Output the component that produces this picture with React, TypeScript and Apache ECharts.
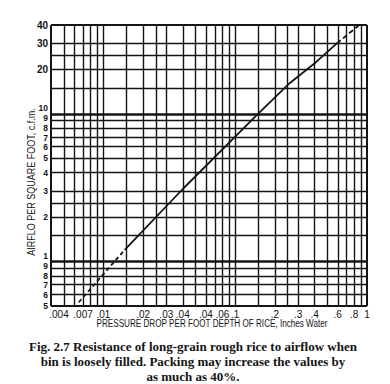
import React, { useEffect, useRef } from "react";
import * as echarts from "echarts";

// Grid values (log-log paper)
const xGridValues = [
  0.004, 0.005, 0.006, 0.007, 0.008, 0.009, 0.01, 0.015, 0.02, 0.025, 0.03, 0.04, 0.05, 0.06, 0.07,
  0.08, 0.09, 0.1, 0.15, 0.2, 0.25, 0.3, 0.4, 0.5, 0.6, 0.7, 0.8, 0.9, 1,
];
const yGridValues = [
  0.5, 0.6, 0.7, 0.8, 0.9, 1, 1.5, 2, 2.5, 3, 4, 5, 6, 7, 8, 9, 10, 15, 20, 25, 30, 40,
];
const thickLines = [1, 10];

// Tick labels as printed on the figure
const xTickValues = [0.004, 0.007, 0.01, 0.02, 0.03, 0.04, 0.06, 0.08, 0.1, 0.2, 0.3, 0.4, 0.6, 0.8, 1];
const xTickLabels = [".004", ".007", ".01", ".02", ".03", ".04", ".04", ".06", ".1", ".2", ".3", ".4", ".6", ".8", "1"];
const yTickValues = [0.5, 0.6, 0.7, 0.8, 0.9, 1, 2, 3, 4, 5, 6, 7, 8, 9, 10, 20, 30, 40];
const yTickLabels = ["5", "6", "7", "8", "9", "1", "2", "3", "4", "5", "6", "7", "8", "9", "10", "20", "30", "40"];

// Curve: airflow (cfm/sq ft) vs pressure drop (in. water per ft)
const lowerDashed = [
  [0.0065, 0.53],
  [0.0145, 1.2],
];
const solidPart = [
  [0.0145, 1.2],
  [0.04, 3.1],
  [0.1456, 9.8],
  [0.26, 16.2],
  [0.41, 22.4],
  [0.59, 30],
];
const upperDashed = [
  [0.59, 30],
  [0.875, 40],
];

const xTitle = "PRESSURE DROP PER FOOT DEPTH OF RICE, Inches Water";
const yTitle = "AIRFLO PER SQUARE FOOT, c.f.m.";
const captionLines = [
  "Fig. 2.7 Resistance of long-grain rough rice to airflow when",
  "bin is loosely filled. Packing may increase the values by",
  "as much as 40%.",
];

const INK = "#141414";

// small vertical nudges (px) so the crowded labels stay apart, as on the printed figure
function yLabelNudge(v: number): number {
  if (v === 1 || v === 10) return -5.6;
  if (v === 0.9 || v === 9) return -2.4;
  if (v === 0.8 || v === 8) return -0.2;
  if (v === 0.7 || v === 7) return 0.9;
  if (v === 0.6 || v === 6) return 0.7;
  return 0;
}

export default function App() {
  const ref = useRef<HTMLDivElement>(null);

  useEffect(() => {
    document.body.style.margin = "0";
    if (!ref.current) return;
    const chart = echarts.init(ref.current, undefined, { renderer: "svg" });

    const isBorderX = (v: number) => v === xGridValues[0] || v === xGridValues[xGridValues.length - 1];
    const isBorderY = (v: number) => v === yGridValues[0] || v === yGridValues[yGridValues.length - 1];

    const vLines = xGridValues.map((v) => {
      const idx = xTickValues.indexOf(v);
      return {
        xAxis: v,
        lineStyle: { width: isBorderX(v) ? 2 : 1.4 },
        label:
          idx >= 0
            ? {
                show: true,
                position: "start",
                formatter: xTickLabels[idx],
                distance: 3,
                offset: idx === 0 ? [8, 0] : [0, 0],
              }
            : { show: false },
      };
    });
    const hLines = yGridValues.map((v) => {
      const idx = yTickValues.indexOf(v);
      return {
        yAxis: v,
        lineStyle: { width: isBorderY(v) ? 2 : thickLines.includes(v) ? 2.6 : 1.4 },
        label:
          idx >= 0
            ? {
                show: true,
                position: "start",
                formatter: yTickLabels[idx],
                distance: 3,
                fontWeight: "bold",
                fontSize: v >= 20 ? 10 : 8.5,
                offset: [0, yLabelNudge(v)],
              }
            : { show: false },
      };
    });

    const option: any = {
      animation: false,
      backgroundColor: "#ffffff",
      grid: { left: 51, right: 23, top: 25, bottom: 78 },
      xAxis: {
        type: "log",
        logBase: 10,
        min: 0.004,
        max: 1,
        axisLine: { show: false },
        axisTick: { show: false },
        axisLabel: { show: false },
        splitLine: { show: false },
      },
      yAxis: {
        type: "log",
        logBase: 10,
        min: 0.5,
        max: 40,
        axisLine: { show: false },
        axisTick: { show: false },
        axisLabel: { show: false },
        splitLine: { show: false },
      },
      series: [
        {
          type: "line",
          data: solidPart,
          symbol: "none",
          lineStyle: { color: INK, width: 1.8 },
          z: 5,
          markLine: {
            silent: true,
            precision: 5,
            symbol: ["none", "none"],
            animation: false,
            lineStyle: { color: INK, type: "solid", width: 1.4 },
            label: {
              color: INK,
              fontFamily: "Liberation Sans",
              fontSize: 10,
            },
            emphasis: { disabled: true },
            data: [...vLines, ...hLines],
          },
        },
        {
          type: "line",
          data: lowerDashed,
          symbol: "none",
          lineStyle: { color: INK, width: 1.8, type: [4, 3] },
          z: 5,
        },
        {
          type: "line",
          data: upperDashed,
          symbol: "none",
          lineStyle: { color: INK, width: 1.8, type: [5, 3] },
          z: 5,
        },
      ],
      graphic: [
        {
          type: "text",
          x: 31,
          y: 182,
          rotation: Math.PI / 2,
          scaleX: 0.82,
          style: {
            text: yTitle,
            fill: INK,
            font: '11px "Liberation Sans"',
            align: "center",
            verticalAlign: "middle",
          },
        },
        {
          type: "text",
          x: 212,
          y: 323,
          scaleX: 0.74,
          style: {
            text: xTitle,
            fill: INK,
            font: '11px "Liberation Sans"',
            align: "center",
            verticalAlign: "middle",
          },
        },
        ...captionLines.map((t, i) => ({
          type: "text",
          x: 193,
          y: 346 + i * 15,
          style: {
            text: t,
            fill: INK,
            font: 'bold 13px "Liberation Serif"',
            align: "center",
            verticalAlign: "middle",
          },
        })),
      ],
    };

    chart.setOption(option);
    return () => chart.dispose();
  }, []);

  return <div ref={ref} style={{ width: 390, height: 384 }} />;
}
